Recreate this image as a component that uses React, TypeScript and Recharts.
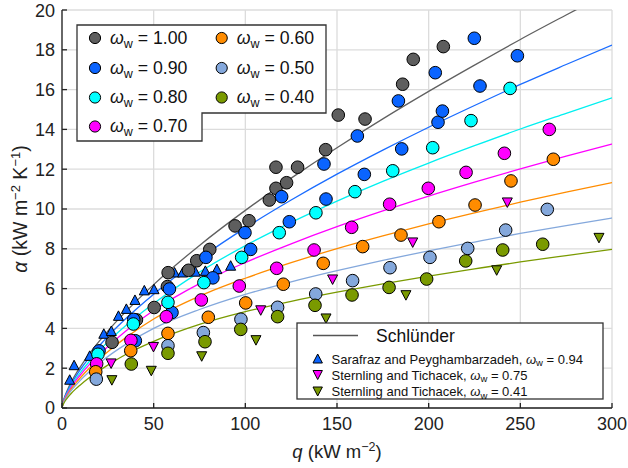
import React from 'react';
import { ComposedChart, Line, Scatter, XAxis, YAxis, CartesianGrid } from 'recharts';

// ---- Schlünder model curves ----
const curveQ = [0, 0.5, 1, 2, 3.5, 5, 7.5, 10, 15, 20, 27, 35, 50, 75, 100, 125, 150, 175, 200, 225, 250, 275, 300];
const schl100 = [0, 0.27, 0.43, 0.69, 1.02, 1.3, 1.71, 2.07, 2.73, 3.32, 4.08, 4.86, 6.2, 8.17, 9.93, 11.55, 13.08, 14.53, 15.91, 17.23, 18.52, 19.75, 20.96];
const schl90 = [0, 0.25, 0.4, 0.65, 0.94, 1.2, 1.59, 1.93, 2.54, 3.09, 3.79, 4.51, 5.72, 7.5, 9.05, 10.45, 11.75, 12.96, 14.11, 15.2, 16.26, 17.26, 18.24];
const schl80 = [0, 0.23, 0.37, 0.6, 0.87, 1.11, 1.47, 1.78, 2.35, 2.86, 3.5, 4.16, 5.25, 6.83, 8.16, 9.33, 10.4, 11.39, 12.31, 13.18, 14.02, 14.81, 15.59];
const schl70 = [0, 0.22, 0.35, 0.56, 0.81, 1.04, 1.37, 1.66, 2.19, 2.66, 3.25, 3.88, 4.9, 6.25, 7.31, 8.25, 9.11, 9.9, 10.65, 11.35, 12.02, 12.66, 13.27];
const schl60 = [0, 0.2, 0.32, 0.51, 0.75, 0.95, 1.25, 1.52, 2.01, 2.44, 2.98, 3.55, 4.47, 5.62, 6.52, 7.3, 8.01, 8.65, 9.25, 9.81, 10.34, 10.85, 11.33];
const schl50 = [0, 0.18, 0.29, 0.47, 0.68, 0.87, 1.14, 1.39, 1.83, 2.23, 2.72, 3.21, 4.0, 4.95, 5.71, 6.34, 6.9, 7.42, 7.9, 8.34, 8.77, 9.17, 9.55];
const schl40 = [0, 0.15, 0.24, 0.39, 0.57, 0.73, 0.96, 1.16, 1.53, 1.86, 2.27, 2.7, 3.35, 4.2, 4.84, 5.36, 5.82, 6.24, 6.63, 6.99, 7.34, 7.66, 7.97];

// ---- measured data (circles) ----
const w100Q = [27.3, 40.6, 50.3, 57.5, 57.9, 69, 73.5, 80.6, 94.4, 102, 113.1, 116.7, 116.7, 122.5, 128.5, 143.8, 150.7, 165.3, 185.8, 191.6, 208];
const w100A = [3.3, 4.43, 5.05, 6.1, 6.8, 6.92, 7.4, 7.97, 9.15, 9.41, 10.45, 11.04, 12.1, 11.32, 12.1, 12.98, 14.72, 14.52, 16.27, 17.52, 18.16];
const w90Q = [20.2, 39.1, 40.0, 58.6, 60.0, 78.5, 82.3, 99.8, 102.9, 119.8, 124, 142.9, 144, 161.1, 164.9, 183.5, 185.3, 203.6, 205.1, 207.5, 224.9, 228, 248.4];
const w90A = [2.87, 4.45, 3.38, 5.98, 4.8, 7.57, 6.54, 8.81, 7.97, 10.62, 9.36, 12.26, 10.5, 13.67, 11.74, 15.43, 13.02, 16.85, 14.36, 14.92, 18.58, 16.18, 17.7];
const w80Q = [19.6, 38.9, 57.8, 77.4, 98, 118.5, 138.5, 159.8, 180.4, 202.2, 223.1, 244.4];
const w80A = [2.7, 4.22, 5.31, 6.3, 7.57, 8.81, 9.81, 10.87, 11.92, 13.08, 14.44, 16.06];
const w70Q = [18.9, 37.6, 56.9, 76, 96.7, 117.1, 137.5, 158, 178.7, 199.8, 220.4, 241.3, 265.8];
const w70A = [2.22, 3.4, 4.59, 5.43, 6.13, 7.02, 7.94, 9.08, 10.24, 11.04, 11.84, 12.8, 14.0];
const w60Q = [18.4, 37.5, 57.8, 79.8, 100.2, 120.7, 142.5, 164, 184.9, 205.6, 225.3, 244.9, 268];
const w60A = [1.82, 2.88, 3.75, 4.56, 5.28, 6.22, 7.27, 8.11, 8.69, 9.36, 10.2, 11.41, 12.5];
const w50Q = [18.7, 57.8, 77.1, 97.6, 117.6, 138.4, 158.5, 178.9, 200.7, 221.3, 242, 264.7];
const w50A = [1.45, 3.13, 3.79, 4.46, 5.06, 5.73, 6.4, 7.05, 7.57, 8.02, 8.94, 9.98];
const w40Q = [37.8, 57.8, 78, 97.5, 117.6, 138, 158.2, 178.4, 198.9, 220.2, 240.4, 262.2];
const w40A = [2.21, 2.75, 3.33, 3.95, 4.59, 5.16, 5.68, 6.06, 6.48, 7.39, 7.94, 8.23];

// ---- literature data (triangles) ----
const sarafrazQ = [4.2, 6.6, 15.1, 22.8, 26.9, 30.8, 35.1, 39.8, 44.9, 50.2, 61.4, 65.8, 72.7, 78.2, 84.5, 92];
const sarafrazA = [1.41, 2.14, 2.61, 3.72, 3.86, 4.62, 4.97, 5.42, 5.9, 5.96, 6.8, 6.8, 6.84, 6.88, 6.97, 7.14];
const stern75Q = [26.8, 49.9, 108.4, 147.6, 191.3, 242.9];
const stern75A = [2.25, 3.08, 4.92, 6.47, 8.33, 10.34];
const stern41Q = [27.2, 48.7, 76.2, 105.8, 144, 187.6, 237.1, 292.9];
const stern41A = [1.41, 1.88, 2.61, 3.42, 4.51, 5.68, 6.93, 8.56];

const xTicks = [0, 50, 100, 150, 200, 250, 300];
const yTicks = [0, 2, 4, 6, 8, 10, 12, 14, 16, 18, 20];

const col = {
  w100: '#5e5e5e',
  w90: '#0a64ff',
  w80: '#00ffff',
  w70: '#ff00ff',
  w60: '#ff8c00',
  w50: '#84a8dc',
  w40: '#7a9a00',
};
const lineCol = {
  w100: '#606060',
  w90: '#1a6cff',
  w80: '#00f0f0',
  w70: '#ff00ff',
  w60: '#ff8c00',
  w50: '#84a8dc',
  w40: '#7a9a00',
};

const FONT = '"Liberation Sans", Arial, sans-serif';

const zip = (qs: number[], as: number[]) => qs.map((q, i) => ({ q, a: as[i] }));

const circleShape = (fill: string) => (p: any) =>
  <circle cx={p.cx} cy={p.cy} r={6.3} fill={fill} stroke="#000" strokeWidth={1} />;
const upShape = (fill: string) => (p: any) =>
  <path d={`M${p.cx},${p.cy - 5.2} L${p.cx + 5},${p.cy + 4.3} L${p.cx - 5},${p.cy + 4.3} Z`} fill={fill} stroke="#000" strokeWidth={1} />;
const downShape = (fill: string) => (p: any) =>
  <path d={`M${p.cx},${p.cy + 5.2} L${p.cx + 5},${p.cy - 4.3} L${p.cx - 5},${p.cy - 4.3} Z`} fill={fill} stroke="#000" strokeWidth={1} />;

const curves = [
  { k: 'w100', v: schl100 },
  { k: 'w90', v: schl90 },
  { k: 'w80', v: schl80 },
  { k: 'w70', v: schl70 },
  { k: 'w60', v: schl60 },
  { k: 'w50', v: schl50 },
  { k: 'w40', v: schl40 },
];
const points = [
  { k: 'w100', q: w100Q, a: w100A },
  { k: 'w90', q: w90Q, a: w90A },
  { k: 'w80', q: w80Q, a: w80A },
  { k: 'w70', q: w70Q, a: w70A },
  { k: 'w60', q: w60Q, a: w60A },
  { k: 'w50', q: w50Q, a: w50A },
  { k: 'w40', q: w40Q, a: w40A },
];

const legend1 = [
  { k: 'w100', t: '1.00', x: 95, y: 38 },
  { k: 'w90', t: '0.90', x: 95, y: 68 },
  { k: 'w80', t: '0.80', x: 95, y: 97.5 },
  { k: 'w70', t: '0.70', x: 95, y: 126.5 },
  { k: 'w60', t: '0.60', x: 221.7, y: 38 },
  { k: 'w50', t: '0.50', x: 221.7, y: 68 },
  { k: 'w40', t: '0.40', x: 221.7, y: 97.5 },
];

const Omega = ({ size, sub }: { size: number; sub: number }) => (
  <>
    <tspan fontStyle="italic">ω</tspan>
    <tspan fontSize={sub} dy={size * 0.22}>w</tspan>
    <tspan fontSize={size} dy={-size * 0.22}>{' '}</tspan>
  </>
);

export default function App() {
  return (
    <div style={{ position: 'absolute', left: 0, top: 0, width: 628, height: 468, background: '#fff', fontFamily: FONT }}>
      <ComposedChart width={628} height={468} margin={{ top: 10, right: 16, bottom: 0, left: 0 }}>
        <CartesianGrid stroke="#dcdcdc" strokeWidth={1.3} />
        <XAxis
          type="number"
          dataKey="q"
          domain={[0, 300]}
          ticks={xTicks}
          allowDataOverflow
          height={60}
          tickSize={-5}
          tickMargin={14}
          stroke="#222"
          strokeWidth={1.3}
          tick={{ fontSize: 18, fill: '#222', fontFamily: FONT }}
        />
        <XAxis
          xAxisId="top"
          orientation="top"
          type="number"
          dataKey="q"
          domain={[0, 300]}
          ticks={xTicks}
          allowDataOverflow
          height={0}
          tickSize={-5}
          tickFormatter={() => ''}
          stroke="#222"
          strokeWidth={1.3}
        />
        <YAxis
          type="number"
          dataKey="a"
          domain={[0, 20]}
          ticks={yTicks}
          allowDataOverflow
          width={62}
          tickSize={-5}
          tickMargin={12}
          stroke="#222"
          strokeWidth={1.3}
          tick={{ fontSize: 18, fill: '#222', fontFamily: FONT }}
        />
        <YAxis
          yAxisId="right"
          orientation="right"
          type="number"
          dataKey="a"
          domain={[0, 20]}
          ticks={yTicks}
          allowDataOverflow
          width={0}
          tickSize={-5}
          tickFormatter={() => ''}
          stroke="#222"
          strokeWidth={1.3}
        />
        {curves.map((c) => (
          <Line
            key={'l' + c.k}
            data={zip(curveQ, c.v)}
            dataKey="a"
            type="monotone"
            stroke={(lineCol as any)[c.k]}
            strokeWidth={1.3}
            dot={false}
            activeDot={false}
            isAnimationActive={false}
          />
        ))}
        <Scatter data={zip(sarafrazQ, sarafrazA)} dataKey="a" shape={upShape(col.w90)} isAnimationActive={false} />
        <Scatter data={zip(stern75Q, stern75A)} dataKey="a" shape={downShape(col.w70)} isAnimationActive={false} />
        <Scatter data={zip(stern41Q, stern41A)} dataKey="a" shape={downShape(col.w40)} isAnimationActive={false} />
        {points.map((s) => (
          <Scatter
            key={'s' + s.k}
            data={zip(s.q, s.a)}
            dataKey="a"
            shape={circleShape((col as any)[s.k])}
            isAnimationActive={false}
          />
        ))}
      </ComposedChart>
      <svg width={628} height={468} style={{ position: 'absolute', left: 0, top: 0, pointerEvents: 'none' }} fontFamily={FONT}>
        {/* legend 1 */}
        <path d="M77,25 H326 V113 H202 V141 H77 Z" fill="#fff" stroke="#333" strokeWidth={1.3} />
        {legend1.map((e) => (
          <g key={'lg' + e.k}>
            <circle cx={e.x} cy={e.y} r={5.6} fill={(col as any)[e.k]} stroke="#000" strokeWidth={1} />
            <text x={e.x + 15} y={e.y + 5.8} fontSize={17.7} fill="#111">
              <Omega size={17.7} sub={12.5} />
              {'= ' + e.t}
            </text>
          </g>
        ))}
        {/* legend 2 */}
        <rect x={297} y={323} width={306} height={76} fill="#fff" stroke="#333" strokeWidth={1.3} />
        <line x1={313} y1={335.5} x2={358} y2={335.5} stroke="#555" strokeWidth={1.3} />
        <text x={376} y={341.5} fontSize={17.5} fill="#111">Schlünder</text>
        <path d="M317.7,354 L322.4,363 L313,363 Z" fill={col.w90} stroke="#000" strokeWidth={1} />
        <text x={331.5} y={363.5} fontSize={13} fill="#111">
          {'Sarafraz and Peyghambarzadeh, '}
          <Omega size={13} sub={9.5} />
          {'= 0.94'}
        </text>
        <path d="M317.7,379.5 L322.4,370.5 L313,370.5 Z" fill={col.w70} stroke="#000" strokeWidth={1} />
        <text x={331.5} y={379.5} fontSize={13} fill="#111">
          {'Sternling and Tichacek, '}
          <Omega size={13} sub={9.5} />
          {'= 0.75'}
        </text>
        <path d="M317.7,396 L322.4,387 L313,387 Z" fill={col.w40} stroke="#000" strokeWidth={1} />
        <text x={331.5} y={396} fontSize={13} fill="#111">
          {'Sternling and Tichacek, '}
          <Omega size={13} sub={9.5} />
          {'= 0.41'}
        </text>
        {/* axis labels */}
        <text x={337} y={458} fontSize={18.5} textAnchor="middle" fill="#222">
          <tspan fontStyle="italic">q</tspan>
          {' (kW m'}
          <tspan fontSize={12.5} dy={-7}>−2</tspan>
          <tspan dy={7}>)</tspan>
        </text>
        <text transform="translate(27,209) rotate(-90)" fontSize={19.5} textAnchor="middle" fill="#222">
          <tspan fontStyle="italic">α</tspan>
          {' (kW m'}
          <tspan fontSize={13} dy={-7.5}>−2</tspan>
          <tspan dy={7.5}>{' K'}</tspan>
          <tspan fontSize={13} dy={-7.5}>−1</tspan>
          <tspan dy={7.5}>)</tspan>
        </text>
      </svg>
    </div>
  );
}
